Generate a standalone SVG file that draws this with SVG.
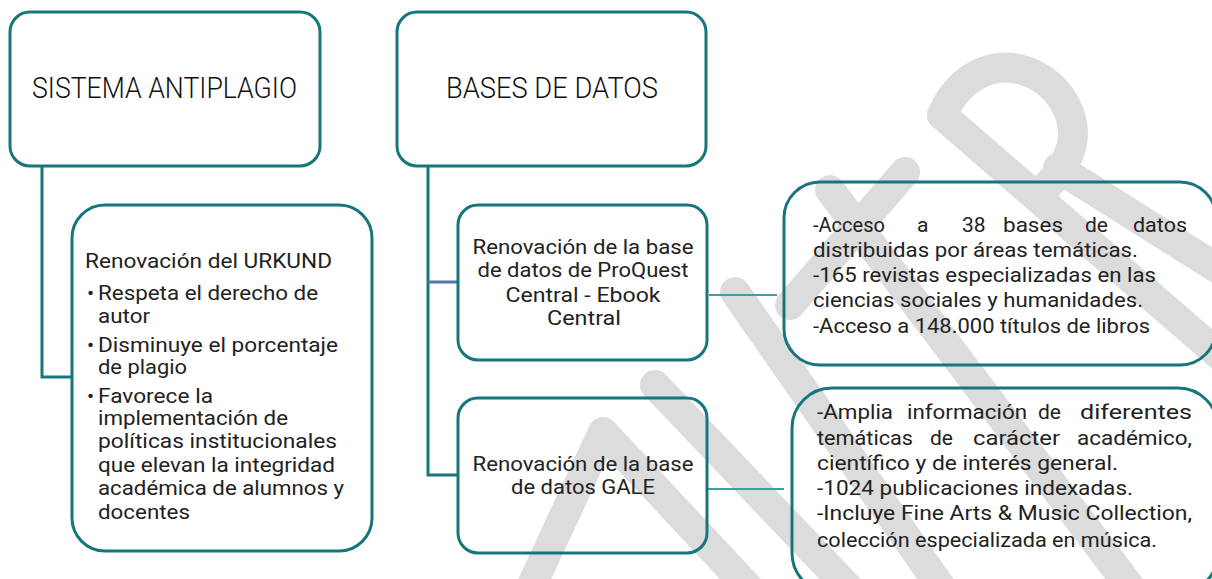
<svg xmlns="http://www.w3.org/2000/svg" width="1212" height="579" viewBox="0 0 1212 579">
<style>
.box{fill:none;stroke:#17767b;stroke-width:3}
.t{font-family:Roboto,"Liberation Sans",sans-serif;font-size:21px;font-weight:400;fill:#222}
.h{font-family:Roboto,"Liberation Sans",sans-serif;font-size:29px;font-weight:300;fill:#111}
.c{text-anchor:middle}
.wm{fill:none;stroke:#dcdcdc;stroke-width:30;stroke-linecap:round;stroke-linejoin:round}
.tree{fill:none;stroke:#17767b;stroke-width:3}
.lnk{fill:none;stroke:#3f9ea0;stroke-width:2}
</style>
<rect width="1212" height="579" fill="#fff"/>
<g id="watermark">
<path class="wm" d="M525,600 L603,432 L760,600"/>
<path class="wm" d="M655,385 L860,600"/>
<path class="wm" d="M735,292 L950,600"/>
<path class="wm" d="M830,190 L1140,600"/>
<path class="wm" d="M905,172 L790,305"/>
<path class="wm" d="M942,115 L1225,360"/>
<path class="wm" d="M942,115 C958,78 988,65 1013,68 C1058,75 1080,118 1071,148 C1064,170 1052,182 1040,192"/>
<path class="wm" d="M1058,168 L1228,275"/>
</g>
<g id="connectors">
<path class="tree" d="M42,166 V377 H72"/>
<path class="tree" d="M428,166 V475 H458"/>
<path d="M428,282 H458" fill="none" stroke="#4a78a8" stroke-width="3"/>
<path class="lnk" d="M709,295 H777"/>
<path class="lnk" d="M708,489 H784"/>
</g>
<g id="n-antiplagio">
<rect class="box" x="10" y="12" width="310" height="154" rx="20"/>
<text class="h" x="32" y="98" textLength="265" lengthAdjust="spacingAndGlyphs">SISTEMA ANTIPLAGIO</text>
</g>
<g id="n-bases">
<rect class="box" x="397" y="12" width="309" height="154" rx="20"/>
<text class="h" x="446" y="98" textLength="212" lengthAdjust="spacingAndGlyphs">BASES DE DATOS</text>
</g>
<g id="n-urkund">
<rect class="box" x="72" y="205" width="300" height="346" rx="33"/>
<text class="t" x="85" y="268" textLength="247" lengthAdjust="spacingAndGlyphs">Renovación del URKUND</text>
<text class="t" x="87" y="300">•</text>
<text class="t" x="98" y="300" textLength="220" lengthAdjust="spacingAndGlyphs">Respeta el derecho de</text>
<text class="t" x="98" y="323" textLength="52" lengthAdjust="spacingAndGlyphs">autor</text>
<text class="t" x="87" y="352">•</text>
<text class="t" x="98" y="352" textLength="240" lengthAdjust="spacingAndGlyphs">Disminuye el porcentaje</text>
<text class="t" x="98" y="374" textLength="89" lengthAdjust="spacingAndGlyphs">de plagio</text>
<text class="t" x="87" y="403">•</text>
<text class="t" x="98" y="403" textLength="115" lengthAdjust="spacingAndGlyphs">Favorece la</text>
<text class="t" x="98" y="425" textLength="190" lengthAdjust="spacingAndGlyphs">implementación de</text>
<text class="t" x="98" y="448" textLength="239" lengthAdjust="spacingAndGlyphs">políticas institucionales</text>
<text class="t" x="98" y="472" textLength="237" lengthAdjust="spacingAndGlyphs">que elevan la integridad</text>
<text class="t" x="98" y="495" textLength="246" lengthAdjust="spacingAndGlyphs">académica de alumnos y</text>
<text class="t" x="98" y="519" textLength="92" lengthAdjust="spacingAndGlyphs">docentes</text>
</g>
<g id="n-proquest">
<rect class="box" x="458" y="205" width="249" height="155" rx="20"/>
<text class="t c" x="583" y="254" textLength="221" lengthAdjust="spacingAndGlyphs">Renovación de la base</text>
<text class="t c" x="583" y="277" textLength="211" lengthAdjust="spacingAndGlyphs">de datos de ProQuest</text>
<text class="t c" x="583" y="302" textLength="155" lengthAdjust="spacingAndGlyphs">Central - Ebook</text>
<text class="t c" x="584" y="325" textLength="74" lengthAdjust="spacingAndGlyphs">Central</text>
</g>
<g id="n-gale">
<rect class="box" x="458" y="398" width="249" height="155" rx="20"/>
<text class="t c" x="583" y="471" textLength="221" lengthAdjust="spacingAndGlyphs">Renovación de la base</text>
<text class="t c" x="583" y="494" textLength="144" lengthAdjust="spacingAndGlyphs">de datos GALE</text>
</g>
<g id="n-proquest-info">
<rect class="box" x="784" y="182" width="432" height="183" rx="36"/>
<text class="t" y="232"><tspan x="813" textLength="72" lengthAdjust="spacingAndGlyphs">-Acceso</tspan><tspan x="917">a</tspan><tspan x="962">38</tspan><tspan x="1003" textLength="60" lengthAdjust="spacingAndGlyphs">bases</tspan><tspan x="1085">de</tspan><tspan x="1133" textLength="54" lengthAdjust="spacingAndGlyphs">datos</tspan></text>
<text class="t" x="813" y="257" textLength="325" lengthAdjust="spacingAndGlyphs">distribuidas por áreas temáticas.</text>
<text class="t" x="813" y="282" textLength="343" lengthAdjust="spacingAndGlyphs">-165 revistas especializadas en las</text>
<text class="t" x="813" y="307" textLength="330" lengthAdjust="spacingAndGlyphs">ciencias sociales y humanidades.</text>
<text class="t" x="813" y="333" textLength="337" lengthAdjust="spacingAndGlyphs">-Acceso a 148.000 títulos de libros</text>
</g>
<g id="n-gale-info">
<rect class="box" x="792" y="388" width="426" height="205" rx="40"/>
<text class="t" y="419"><tspan x="817" textLength="76" lengthAdjust="spacingAndGlyphs">-Amplia</tspan><tspan x="907" textLength="120" lengthAdjust="spacingAndGlyphs">información</tspan><tspan x="1038">de</tspan><tspan x="1080" textLength="112" lengthAdjust="spacingAndGlyphs">diferentes</tspan></text>
<text class="t" y="445"><tspan x="817" textLength="96" lengthAdjust="spacingAndGlyphs">temáticas</tspan><tspan x="930">de</tspan><tspan x="973" textLength="87" lengthAdjust="spacingAndGlyphs">carácter</tspan><tspan x="1077" textLength="115" lengthAdjust="spacingAndGlyphs">académico,</tspan></text>
<text class="t" x="817" y="470" textLength="301" lengthAdjust="spacingAndGlyphs">científico y de interés general.</text>
<text class="t" x="817" y="495" textLength="316" lengthAdjust="spacingAndGlyphs">-1024 publicaciones indexadas.</text>
<text class="t" x="817" y="520" textLength="375" lengthAdjust="spacingAndGlyphs">-Incluye Fine Arts &amp; Music Collection,</text>
<text class="t" x="817" y="547" textLength="340" lengthAdjust="spacingAndGlyphs">colección especializada en música.</text>
</g>
</svg>
